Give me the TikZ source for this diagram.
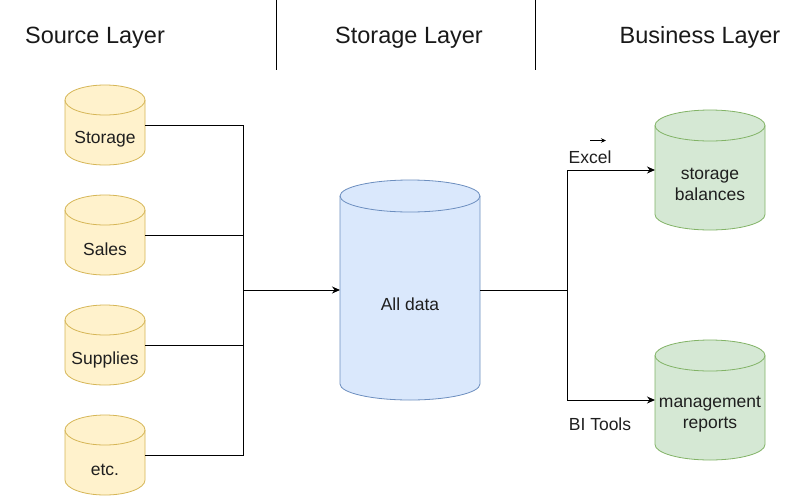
\documentclass[tikz,border=0pt]{standalone}
\usepackage{fontspec}
\setmainfont{Liberation Sans}
\usetikzlibrary{arrows.meta}
\definecolor{yfill}{HTML}{FFF2CC}\definecolor{ydraw}{HTML}{D6B656}
\definecolor{bfill}{HTML}{DAE8FC}\definecolor{bdraw}{HTML}{6C8EBF}
\definecolor{gfill}{HTML}{D5E8D4}\definecolor{gdraw}{HTML}{82B366}
\newcommand\drawcyl[4]{%
  \path[#2] ([yshift=-#4pt]#1.north west) -- ([yshift=#4pt]#1.south west)
    arc[start angle=180,end angle=360,x radius=#3,y radius=#4]
    -- ([yshift=-#4pt]#1.north east)
    arc[start angle=0,end angle=180,x radius=#3,y radius=#4] -- cycle;
  \draw[#2,fill=none] ([yshift=-#4pt]#1.north west)
    arc[start angle=180,end angle=360,x radius=#3,y radius=#4];}
\tikzset{
  cylbox/.style={inner sep=0pt,outer sep=0pt,minimum width=#1},
  ycyl/.style={fill=yfill,draw=ydraw,line width=0.8pt},
  bcyl/.style={fill=bfill,draw=bdraw,line width=0.8pt},
  gcyl/.style={fill=gfill,draw=gdraw,line width=0.8pt},
  body/.style={font=\fontsize{17.5}{21}\selectfont,text=black!88,align=center,inner sep=0pt},
  head/.style={font=\fontsize{23.5}{28}\selectfont,text=black!90,inner sep=0pt},
  conn/.style={line width=1pt,black},
  arr/.style={conn,-{Stealth[length=8pt,width=7pt]}},
}
\begin{document}
\begin{tikzpicture}[x=1pt,y=1pt]
\useasboundingbox[fill=white] (0,0) rectangle (795,-496);
% headers
\node[head] (h1) at (95,-37.5) {Source Layer};
\node[head] (h2) at (409,-37.5) {Storage Layer};
\node[head] (h3) at (700,-37.5) {Business Layer};
\coordinate (d1t) at (276,0); \coordinate (d1b) at (276,-70);
\coordinate (d2t) at (535,0); \coordinate (d2b) at (535,-70);
\draw[line width=0.8pt] (d1t) -- (d1b);
\draw[line width=0.8pt] (d2t) -- (d2b);
% source cylinders
\node[cylbox=80pt,minimum height=80pt] (s1) at (105,-125) {};
\node[cylbox=80pt,minimum height=80pt] (s2) at (105,-235) {};
\node[cylbox=80pt,minimum height=80pt] (s3) at (105,-345) {};
\node[cylbox=80pt,minimum height=80pt] (s4) at (105,-455) {};
\drawcyl{s1}{ycyl}{40}{15}
\drawcyl{s2}{ycyl}{40}{15}
\drawcyl{s3}{ycyl}{40}{15}
\drawcyl{s4}{ycyl}{40}{15}
\node[body] (t1) at (105,-139.5) {Storage};
\node[body] (t2) at (105,-249.5) {Sales};
\node[body] (t3) at (105,-359.5) {Supplies};
\node[body] (t4) at (105,-469.5) {etc.};
% storage
\node[cylbox=140pt,minimum height=220pt] (all) at (410,-290) {};
\drawcyl{all}{bcyl}{70}{16}
\node[body] (ta) at (410,-304.5) {All data};
% business
\node[cylbox=110pt,minimum height=120pt] (sb) at (710,-170) {};
\node[cylbox=110pt,minimum height=120pt] (mr) at (710,-400) {};
\drawcyl{sb}{gcyl}{55}{15.5}
\drawcyl{mr}{gcyl}{55}{15.5}
\node[body] (tsb) at (710,-184.5) {storage\\balances};
\node[body] (tmr) at (710,-414.5) {management\\reports};
% connectors
\coordinate (jL) at (243,-290);
\coordinate (jR) at (567,-290);
\draw[conn] (s1.east) -| (jL);
\draw[conn] (s2.east) -| (jL);
\draw[conn] (s3.east) -| (jL);
\draw[conn] (s4.east) -| (jL);
\draw[arr] (jL) -- (all.west);
\draw[conn] (all.east) -- (jR);
\draw[arr] (jR) |- (sb.west);
\draw[arr] (jR) |- (mr.west);
% labels
\node[body] (lx) at (590,-157.5) {Excel};
\node[body] (lb) at (600,-424.5) {BI Tools};
\coordinate (xa) at (590,-140.5);
\coordinate (xb) at (606,-140.5);
\draw[line width=0.9pt,-{Stealth[length=5pt,width=4.5pt]}] (xa) -- (xb);
\end{tikzpicture}
\end{document}
